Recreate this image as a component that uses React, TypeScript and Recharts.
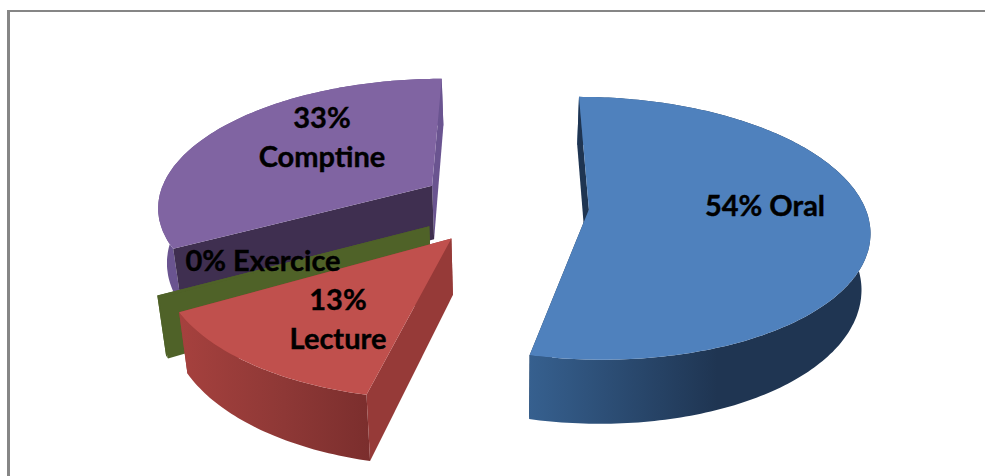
import { PieChart, Pie } from "recharts";

// Reversed so that the back slices paint first; the pie runs counter-clockwise from the top
const names = ["Comptine", "Exercice", "Lecture", "Oral"];
const shares = [33.0, 0.3, 13.1, 53.6];

const data = names.map((name, i) => ({ name, value: shares[i] }));

const WIDTH = 985;
const HEIGHT = 476;

// 3D view settings, in pie radius units where it applies
const PERSPECTIVE = 0.143;
const SQUASH = 0.462;
const DEPTH = 54.5;
const TILT = 0.025;

// Exploded offset of each slice on the ground plane
const explode: Record<string, [number, number]> = {
  Oral: [0.285, -0.045],
  Lecture: [-0.205, -0.264],
  Exercice: [-0.286, -0.174],
  Comptine: [-0.289, 0.143],
};

const colors: Record<string, { top: string; first: string; last: string; rim: string[] }> = {
  Oral: { top: "#4f81bd", first: "#1f3552", last: "#1f3552", rim: ["#36608f", "#1f3552", "#1f3552"] },
  Lecture: { top: "#c0504d", first: "#963a38", last: "#963a38", rim: ["#a6413e", "#8e3836", "#7b2e2d"] },
  Exercice: { top: "#4f6228", first: "#4f6228", last: "#4f6228", rim: ["#4f6228", "#4f6228", "#4f6228"] },
  Comptine: { top: "#8064a2", first: "#3f2f50", last: "#6a5490", rim: ["#6a5490", "#6a5490", "#6a5490"] },
};

const labelSpots: Record<string, { x: number; y: number; stacked: boolean }> = {
  Oral: { x: 765, y: 204, stacked: false },
  Lecture: { x: 338, y: 318, stacked: true },
  Exercice: { x: 263, y: 259, stacked: false },
  Comptine: { x: 322, y: 136, stacked: true },
};

const toPath = (pts: number[][]) =>
  pts.map((p, i) => `${i ? "L" : "M"}${p[0].toFixed(1)},${p[1].toFixed(1)}`).join(" ") + " Z";

function SliceShape(props: any) {
  const { cx, cy, outerRadius, startAngle, endAngle, name } = props;
  const sliceName = name ?? props.payload?.name;
  const [ox, oy] = explode[sliceName];
  const c = colors[sliceName];

  const project = (u: number, v: number, z: number) => {
    const gx = ox + u;
    const gy = oy + v;
    const s = 1 / (1 + PERSPECTIVE * gy);
    return [
      cx + outerRadius * gx * s * (1 - z * TILT),
      cy - outerRadius * SQUASH * gy * s + z * DEPTH * s,
    ];
  };

  // clockwise from the top
  const t0 = 90 - Math.max(startAngle, endAngle);
  const t1 = 90 - Math.min(startAngle, endAngle);
  const steps = Math.max(2, Math.ceil(t1 - t0));
  const arc = (z: number) => {
    const pts: number[][] = [];
    for (let i = 0; i <= steps; i++) {
      const a = ((t0 + ((t1 - t0) * i) / steps) * Math.PI) / 180;
      pts.push(project(Math.sin(a), Math.cos(a), z));
    }
    return pts;
  };

  const topArc = arc(0);
  const lowArc = arc(1);
  const hubTop = project(0, 0, 0);
  const hubLow = project(0, 0, 1);
  const gradId = `rim-${sliceName}`;

  return (
    <g>
      <defs>
        <linearGradient id={gradId} x1="0" y1="0" x2="1" y2="0">
          <stop offset="0" stopColor={c.rim[0]} />
          <stop offset="0.55" stopColor={c.rim[1]} />
          <stop offset="1" stopColor={c.rim[2]} />
        </linearGradient>
      </defs>
      <path d={toPath([hubTop, topArc[steps], lowArc[steps], hubLow])} fill={c.last} />
      <path d={toPath([...topArc, ...[...lowArc].reverse()])} fill={`url(#${gradId})`} />
      <path d={toPath([hubTop, topArc[0], lowArc[0], hubLow])} fill={c.first} />
      <path d={toPath([hubTop, ...topArc])} fill={c.top} />
    </g>
  );
}

function sliceLabel(props: any) {
  const { name, percent } = props;
  const spot = labelSpots[name];
  const pct = `${Math.round(percent * 100)}%`;
  const shared = {
    x: spot.x,
    textAnchor: "middle" as const,
    dominantBaseline: "central" as const,
    fontFamily: "Lato",
    fontWeight: 700,
    fontSize: 29,
    fill: "#000",
    stroke: "#000",
    strokeWidth: 0.4,
  };
  if (!spot.stacked) {
    return (
      <text {...shared} y={spot.y}>
        {`${pct} ${name}`}
      </text>
    );
  }
  return (
    <g>
      <text {...shared} y={spot.y - 20}>
        {pct}
      </text>
      <text {...shared} y={spot.y + 19}>
        {name}
      </text>
    </g>
  );
}

export default function App() {
  return (
    <div style={{ position: "absolute", left: 0, top: 0, width: WIDTH, height: HEIGHT, background: "#fff" }}>
      <div style={{ position: "absolute", left: 7, top: 10, right: 0, height: 2, background: "#868686" }} />
      <div style={{ position: "absolute", left: 7, top: 10, bottom: 0, width: 3, background: "#868686" }} />
      <div style={{ position: "absolute", left: 0, top: 0 }}>
        <PieChart width={WIDTH} height={HEIGHT} margin={{ top: 0, right: 0, bottom: 0, left: 0 }}>
          <Pie
            data={data}
            dataKey="value"
            nameKey="name"
            cx={510}
            cy={203.6}
            outerRadius={275}
            startAngle={90}
            endAngle={450}
            stroke="none"
            labelLine={false}
            label={sliceLabel}
            shape={SliceShape}
            inactiveShape={SliceShape}
            isAnimationActive={false}
          />
        </PieChart>
      </div>
    </div>
  );
}
